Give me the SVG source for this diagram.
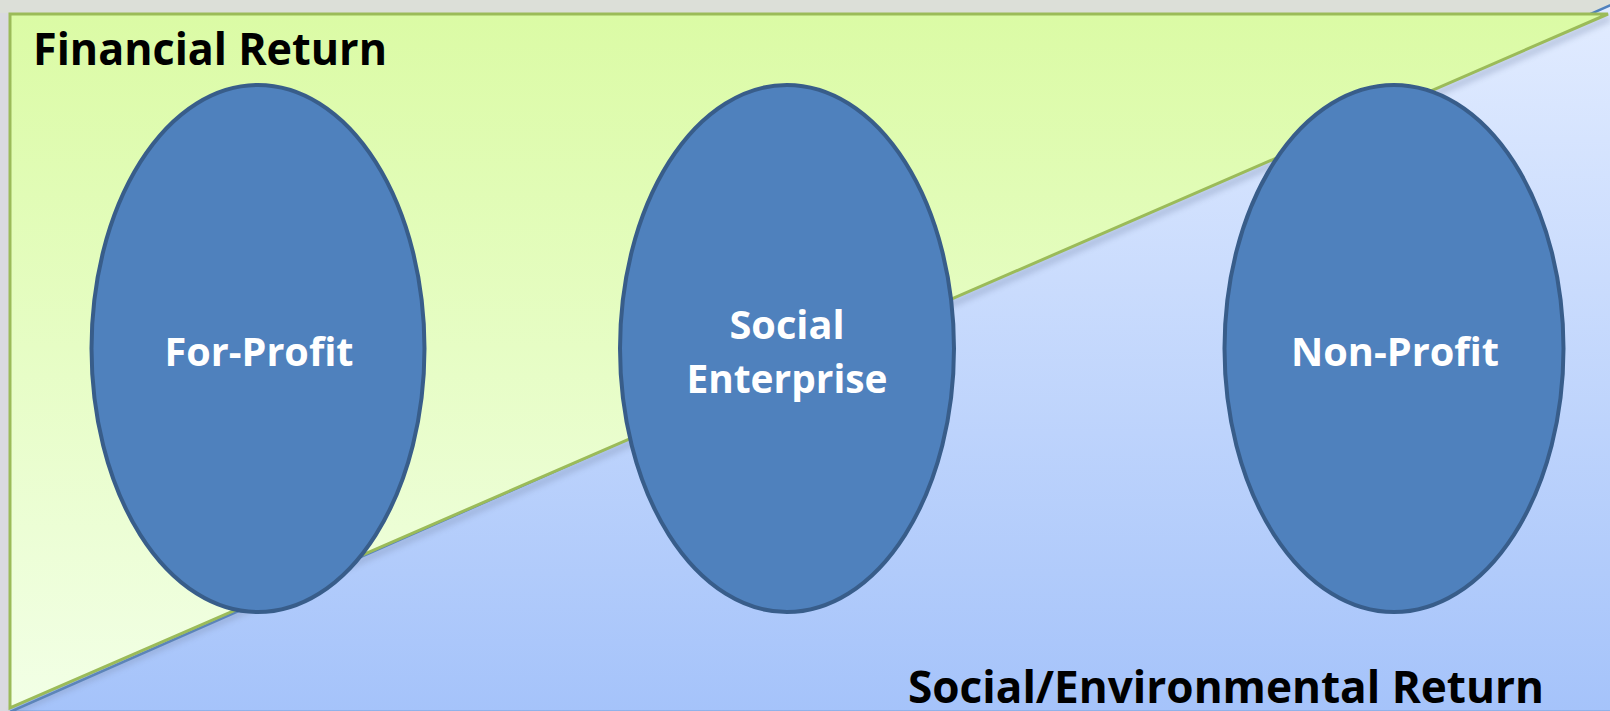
<svg xmlns="http://www.w3.org/2000/svg" width="1610" height="711" viewBox="0 0 1610 711">
<style>
.node ellipse{fill:#4f81bd;stroke:#385d8a;stroke-width:4}
.lbl{font-family:"Open Sans","Noto Sans","Liberation Sans",sans-serif;font-weight:bold;fill:#ffffff;font-size:40px;text-anchor:middle}
.title{font-family:"Open Sans","Noto Sans","Liberation Sans",sans-serif;font-weight:bold;fill:#000000;font-size:45px}
</style>
<defs>
<linearGradient id="gBlue" x1="0" y1="0" x2="0" y2="1">
<stop offset="0" stop-color="#e2ecff"/>
<stop offset="1" stop-color="#a5c3fa"/>
</linearGradient>
<linearGradient id="gGreen" x1="0" y1="0" x2="0" y2="1">
<stop offset="0" stop-color="#dbfba5"/>
<stop offset="1" stop-color="#f2ffe6"/>
</linearGradient>
<filter id="sh" x="-5%" y="-5%" width="110%" height="120%">
<feGaussianBlur stdDeviation="3"/>
</filter>
</defs>
<rect x="0" y="0" width="1610" height="711" fill="#dadae0"/>
<rect x="0" y="0" width="1610" height="13" fill="#dcdfd8"/>
<rect x="10" y="13" width="1600" height="698" fill="url(#gBlue)"/>
<polygon points="10,712 1622,0 1622,712" fill="url(#gBlue)" stroke="#4f81bd" stroke-width="2.5"/>
<line x1="12" y1="712" x2="1610" y2="18" stroke="#7f8fb0" stroke-width="6" opacity="0.45" filter="url(#sh)"/>
<polygon points="10,14 1608,14 10,708" fill="url(#gGreen)" stroke="#9bbb59" stroke-width="3"/>
<text class="title" x="33" y="65" textLength="354" lengthAdjust="spacingAndGlyphs">Financial Return</text>
<text class="title" x="908" y="703" textLength="636" lengthAdjust="spacingAndGlyphs">Social/Environmental Return</text>
<g id="connectors"></g>
<g id="for-profit" class="node">
<ellipse cx="258" cy="348.5" rx="166.5" ry="263.5"/>
<text class="lbl" x="259" y="366" textLength="189" lengthAdjust="spacingAndGlyphs">For-Profit</text>
</g>
<g id="social-enterprise" class="node">
<ellipse cx="787" cy="348.5" rx="167" ry="263.5"/>
<text class="lbl" x="787" y="339" textLength="115" lengthAdjust="spacingAndGlyphs">Social</text>
<text class="lbl" x="787" y="393" textLength="201" lengthAdjust="spacingAndGlyphs">Enterprise</text>
</g>
<g id="non-profit" class="node">
<ellipse cx="1394" cy="348.5" rx="169.5" ry="263.5"/>
<text class="lbl" x="1395" y="366" textLength="208" lengthAdjust="spacingAndGlyphs">Non-Profit</text>
</g>
</svg>
